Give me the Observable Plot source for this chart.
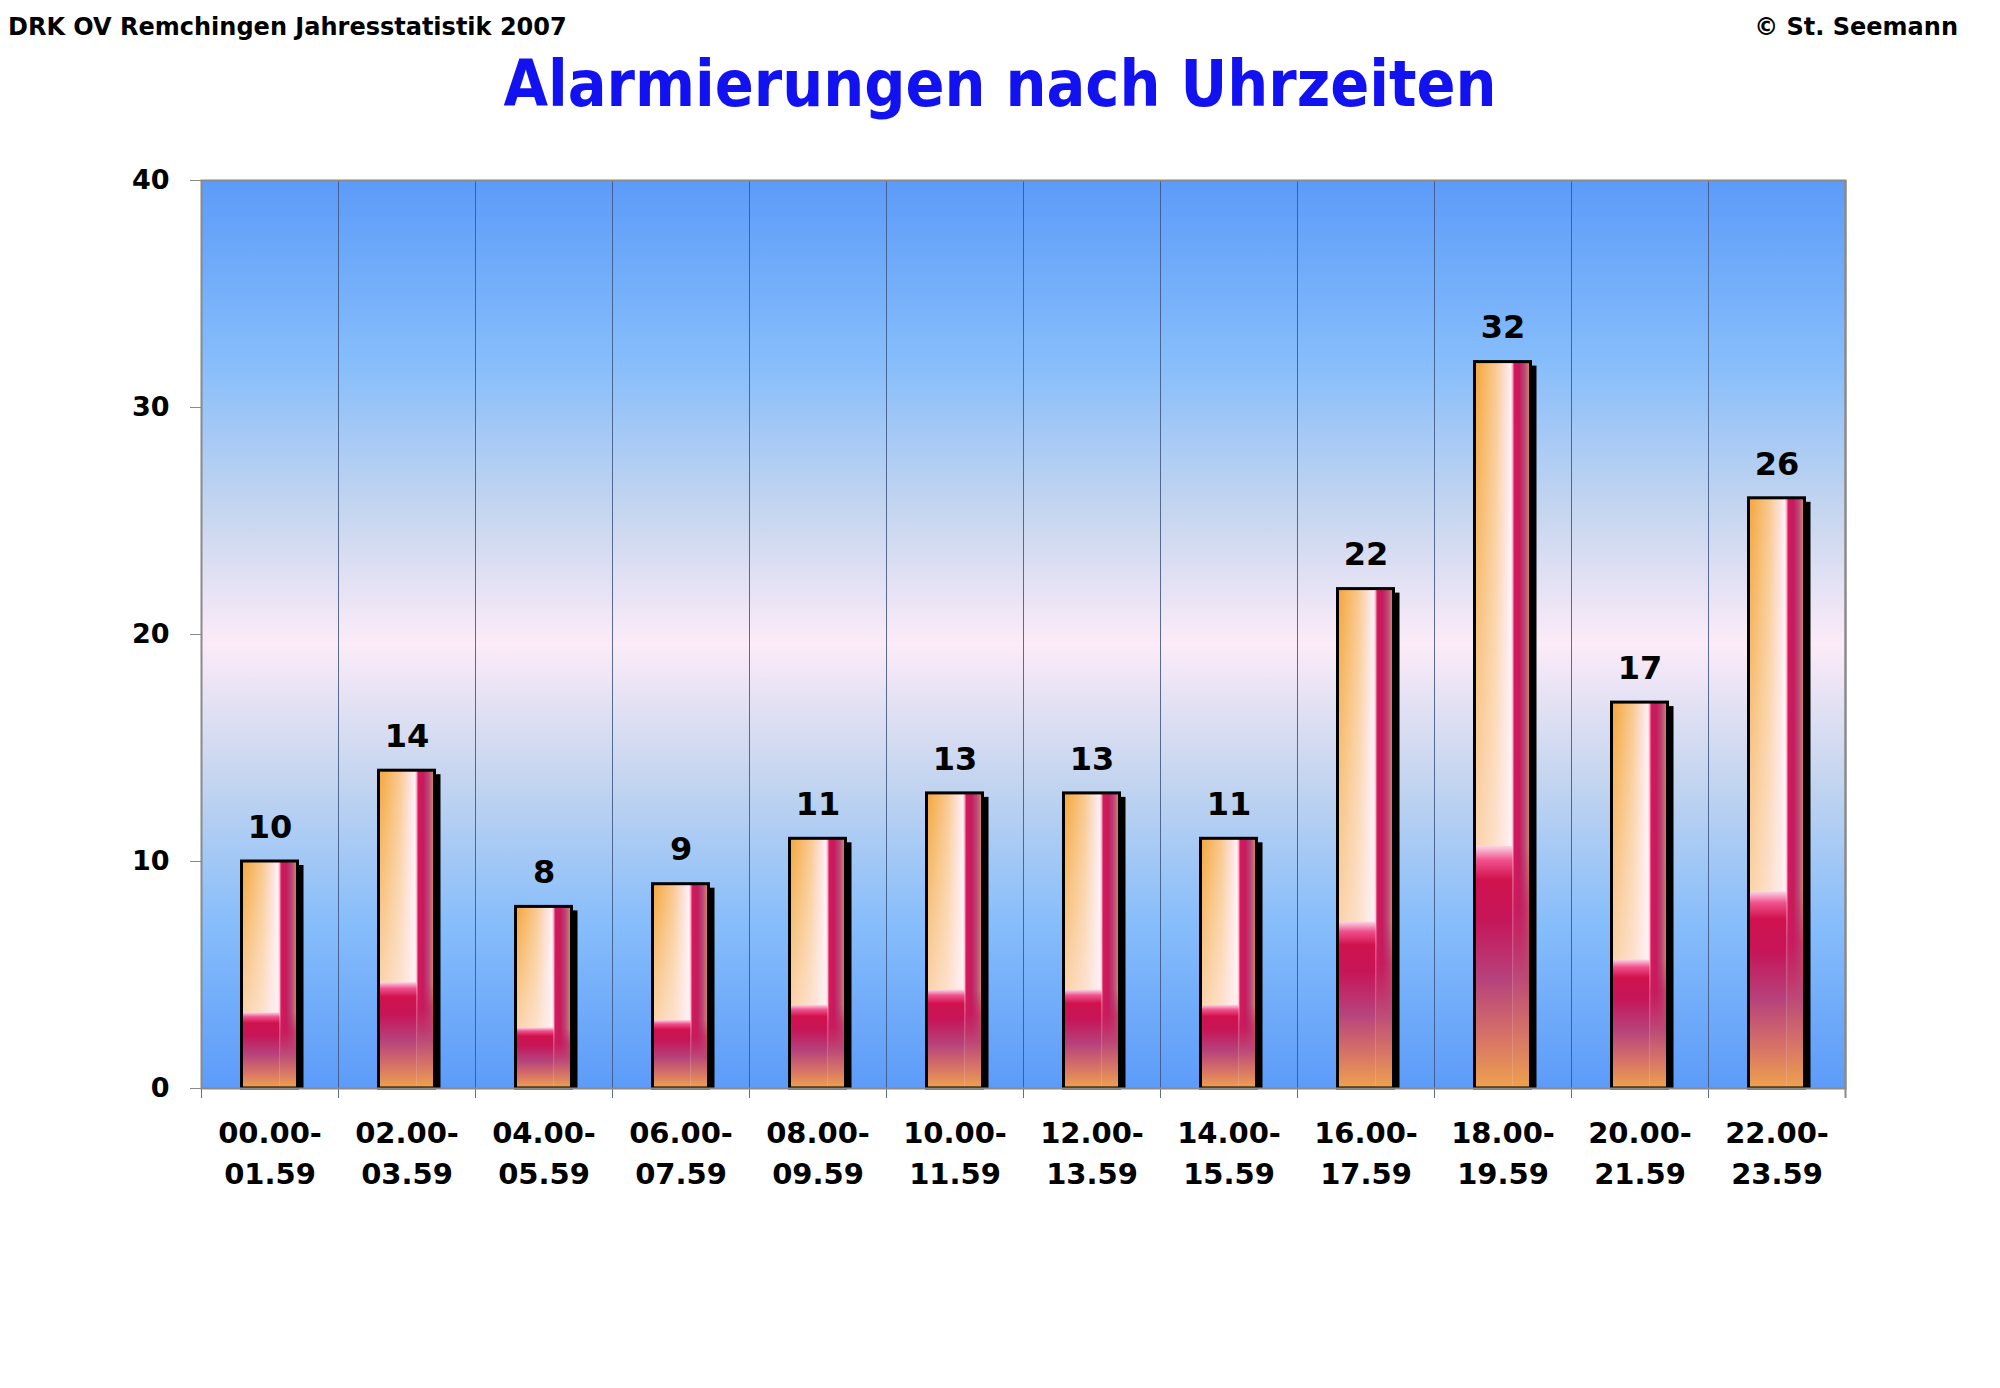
<!DOCTYPE html>
<html>
<head>
<meta charset="utf-8">
<script src="https://cdn.jsdelivr.net/npm/d3@7"></script>
<script src="https://cdn.jsdelivr.net/npm/@observablehq/plot@0.6"></script>
<style>
  body { margin: 0; background: #fff; width: 2000px; height: 1388px; overflow: hidden; font-family: "DejaVu Sans", sans-serif; }
  #header { position: relative; width: 2000px; height: 140px; }
  .hdr { position: absolute; font-weight: bold; font-size: 24px; line-height: 28px; color: #000; white-space: nowrap; }
  #title { position: absolute; left: 0; width: 2000px; top: 48px; text-align: center; font-family: "DejaVu Sans Condensed", "DejaVu Sans", sans-serif; font-weight: bold; font-size: 64px; line-height: 72px; color: #1212f0; white-space: nowrap; }
  #chart svg { display: block; }
</style>
</head>
<body>
<div id="header">
  <div class="hdr" style="left:8px; top:13px;">DRK OV Remchingen Jahresstatistik 2007</div>
  <div class="hdr" style="right:42px; top:13px;">© St. Seemann</div>
  <div id="title">Alarmierungen nach Uhrzeiten</div>
</div>
<div id="chart"></div>
<script>
// ---- data ----
const categories = ["00.00-01.59", "02.00-03.59", "04.00-05.59", "06.00-07.59", "08.00-09.59", "10.00-11.59",
                    "12.00-13.59", "14.00-15.59", "16.00-17.59", "18.00-19.59", "20.00-21.59", "22.00-23.59"];
const counts = [10, 14, 8, 9, 11, 13, 13, 11, 22, 32, 17, 26];
const yTicks = [0, 10, 20, 30, 40];
const yDomain = [0, 40];

const data = categories.map((c, i) => ({cat: c, value: counts[i]}));

// ---- layout ----
const W = 2000, H = 1248, mL = 201, mR = 155, mT = 40, mB = 300;
const bw = (W - mL - mR) / categories.length;
const barW = 56;
const inset = (bw - barW) / 2;
const split = 0.68;

const chart = Plot.plot({
  width: W, height: H,
  marginLeft: mL, marginRight: mR, marginTop: mT, marginBottom: mB,
  style: {fontFamily: "'DejaVu Sans', sans-serif", fontWeight: "bold", color: "#000", background: "transparent", overflow: "visible"},
  x: {type: "band", domain: categories, padding: 0},
  y: {domain: yDomain},
  marks: [
    Plot.frame({fill: "url(#bgGrad)"}),
    Plot.ruleX(categories, {x: d => d, dx: -bw / 2, stroke: "#3e5580", strokeWidth: 1, strokeOpacity: 0.85, insetBottom: -10}),
    Plot.ruleX(categories.slice(-1), {x: d => d, dx: bw / 2, stroke: "#8a8a8a", strokeWidth: 2, insetBottom: -10}),
    // shadow
    Plot.barY(data, {x: "cat", y: "value", fill: "#000", dx: 6, insetTop: 4, insetLeft: inset, insetRight: inset}),
    // main body (horizontal gradient)
    Plot.barY(data, {x: "cat", y: "value", fill: "url(#barH)", insetLeft: inset, insetRight: inset}),
    // whitening fade on left part
    Plot.barY(data, {x: "cat", y: "value", fill: "url(#fadeW)", insetLeft: inset, insetRight: inset + barW * (1 - split)}),
    // lower section
    Plot.barY(data, {x: "cat", y1: 0, y2: d => d.value / 3, fill: "url(#lowL)", insetLeft: inset, insetRight: inset + barW * (1 - split)}),
    Plot.barY(data, {x: "cat", y1: 0, y2: d => d.value / 3, fill: "url(#lowR)", insetLeft: inset + barW * split, insetRight: inset}),
    // outline
    Plot.barY(data, {x: "cat", y: "value", fill: "none", stroke: "#000", strokeWidth: 3, insetLeft: inset, insetRight: inset}),
    // value labels
    Plot.text(data, {x: "cat", y: "value", text: d => String(d.value), dy: -34, fontSize: 32, fontWeight: "bold", fill: "#000"}),
    Plot.frame({stroke: "#8a8a8a", strokeWidth: 2}),
    Plot.axisY({ticks: yTicks, tickSize: 11, tickPadding: 21, fontSize: 27, fontWeight: "bold", stroke: "#8a8a8a", fill: "#000", label: null}),
    Plot.axisX({tickSize: 0, tickPadding: 26, fontSize: 29, fontWeight: "bold", lineHeight: 1.4, fill: "#000", label: null,
                tickFormat: d => d.replace("-", "-\n")})
  ]
});

const defs = d3.select(chart).insert("defs", ":first-child");
defs.html(`
  <linearGradient id="bgGrad" x1="0" y1="0" x2="0" y2="1">
    <stop offset="0" stop-color="#5c9bf9"/>
    <stop offset="0.2" stop-color="#86bdfb"/>
    <stop offset="0.36" stop-color="#c4d5ef"/>
    <stop offset="0.51" stop-color="#fcebf8"/>
    <stop offset="0.66" stop-color="#c4d5ef"/>
    <stop offset="0.82" stop-color="#86bdfb"/>
    <stop offset="1" stop-color="#5c9bf9"/>
  </linearGradient>
  <linearGradient id="barH" x1="0" y1="0" x2="1" y2="0">
    <stop offset="0" stop-color="#f3a540"/>
    <stop offset="0.1" stop-color="#f5ae4e"/>
    <stop offset="0.38" stop-color="#f9c992"/>
    <stop offset="0.58" stop-color="#fde3df"/>
    <stop offset="0.65" stop-color="#fff3f5"/>
    <stop offset="0.68" stop-color="#f7a6c0"/>
    <stop offset="0.71" stop-color="#d41a5c"/>
    <stop offset="0.8" stop-color="#c61a5c"/>
    <stop offset="0.9" stop-color="#b94a7a"/>
    <stop offset="1" stop-color="#e0905c"/>
  </linearGradient>
  <linearGradient id="fadeW" x1="0" y1="0" x2="0" y2="1">
    <stop offset="0" stop-color="#ffffff" stop-opacity="0"/>
    <stop offset="0.67" stop-color="#fff0f2" stop-opacity="0.6"/>
    <stop offset="1" stop-color="#fff0f2" stop-opacity="0.6"/>
  </linearGradient>
  <linearGradient id="lowL" x1="0" y1="0" x2="0" y2="1">
    <stop offset="0" stop-color="#fbd6e4"/>
    <stop offset="0.06" stop-color="#f0508c"/>
    <stop offset="0.14" stop-color="#d0124e"/>
    <stop offset="0.3" stop-color="#c61558"/>
    <stop offset="0.55" stop-color="#b6427c"/>
    <stop offset="0.8" stop-color="#d87466"/>
    <stop offset="1" stop-color="#eea24e"/>
  </linearGradient>
  <linearGradient id="lowR" x1="0" y1="0" x2="0" y2="1">
    <stop offset="0" stop-color="#c81a5c" stop-opacity="0"/>
    <stop offset="0.25" stop-color="#c41c5e" stop-opacity="0.6"/>
    <stop offset="0.55" stop-color="#bc4a78"/>
    <stop offset="0.8" stop-color="#d87866"/>
    <stop offset="1" stop-color="#eea24e"/>
  </linearGradient>
`);

document.getElementById("chart").appendChild(chart);
</script>
</body>
</html>
